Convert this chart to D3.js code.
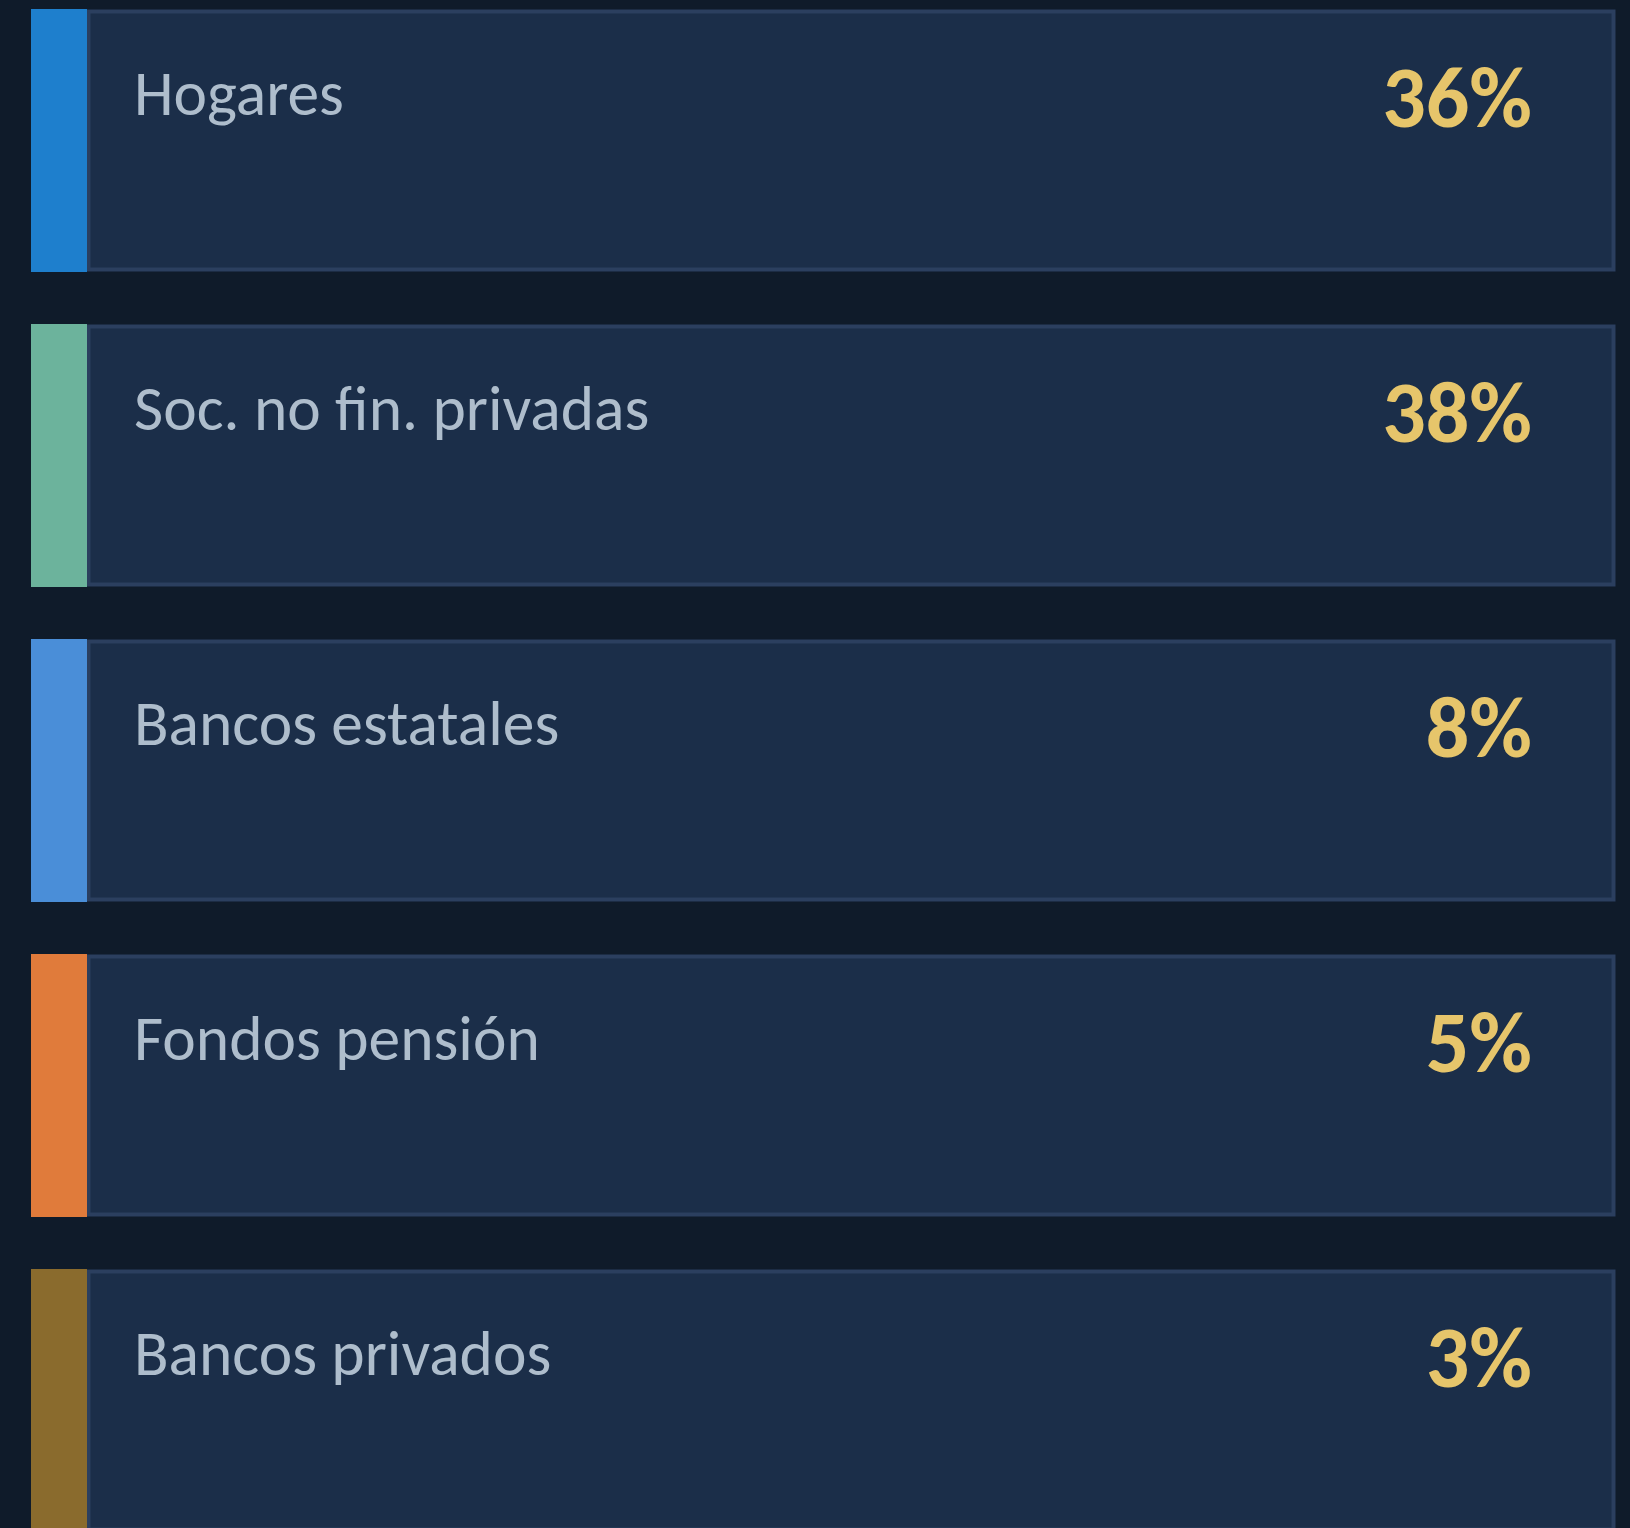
<!DOCTYPE html>
<html>
<head>
<meta charset="utf-8">
<script src="https://cdn.jsdelivr.net/npm/d3@7"></script>
<style>
  html, body { margin: 0; padding: 0; background: #0f1b2a; }
  svg { display: block; }
</style>
</head>
<body>
<div id="chart"></div>
<script>
var categories = ["Hogares", "Soc. no fin. privadas", "Bancos estatales", "Fondos pensión", "Bancos privados"];
var shares = [36, 38, 8, 5, 3];
var colors = ["#1e7fcd", "#6cb39c", "#4a8ed8", "#e07b3b", "#8a6b2d"];

var w = 1630, h = 1528;
var fontFamily = "Carlito, Calibri, Lato, sans-serif";

var svg = d3.select("#chart").append("svg")
    .attr("width", w)
    .attr("height", h);

svg.append("rect")
    .attr("width", w)
    .attr("height", h)
    .attr("fill", "#0f1b2a");

// cards are 263px tall on a 315px pitch
var y = d3.scaleBand()
    .domain(categories)
    .range([9, 9 + 315 * (categories.length - 1) + 263])
    .paddingInner(52 / 315)
    .paddingOuter(0)
    .align(0);

var data = categories.map(function(c, i) {
    return { name: c, value: shares[i], color: colors[i] };
});

var card = svg.selectAll("g.card")
    .data(data)
    .enter()
    .append("g")
    .attr("class", "card")
    .attr("transform", function(d) { return "translate(0," + y(d.name) + ")"; });

card.append("rect")
    .attr("x", 88.5)
    .attr("y", 2.5)
    .attr("width", 1525)
    .attr("height", y.bandwidth() - 5)
    .attr("fill", "#1b2e49")
    .attr("stroke", "#2b3f5f")
    .attr("stroke-width", 4);

card.append("rect")
    .attr("x", 31)
    .attr("y", 0)
    .attr("width", 56)
    .attr("height", y.bandwidth())
    .attr("fill", function(d) { return d.color; });

card.append("text")
    .attr("x", 134)
    .attr("y", 106)
    .attr("font-family", fontFamily)
    .attr("font-size", 63.5)
    .attr("fill", "#aebdcc")
    .text(function(d) { return d.name; });

card.append("text")
    .attr("x", 1532)
    .attr("y", 118)
    .attr("text-anchor", "end")
    .attr("font-family", fontFamily)
    .attr("font-weight", "bold")
    .attr("font-size", 86)
    .attr("fill", "#e6c56b")
    .text(function(d) { return d.value + "%"; });
</script>
</body>
</html>
